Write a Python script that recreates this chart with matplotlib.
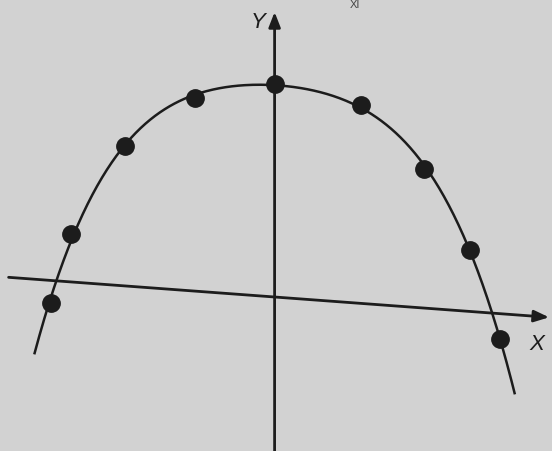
import numpy as np
import matplotlib.pyplot as plt
from matplotlib.transforms import Affine2D

# Observed points (X, Y) on the scatter diagram
x_pts = [-4.48, -4.08, -2.99, -1.60, 0.0, 1.73, 2.99, 3.91, 4.51]
y_pts = [-0.46, 0.95, 2.79, 3.87, 4.27, 3.96, 2.78, 1.23, -0.51]

# extent of the fitted curve and the axes
curve_x_range = (-4.80, 4.80)
x_axis_range = (-5.32, 5.49)
y_axis_range = (-3.1, 5.7)

ink = '#1c1c1c'
paper = '#d2d2d2'

fig = plt.figure(figsize=(5.52, 4.51), dpi=100)
fig.patch.set_facecolor(paper)
ax = fig.add_axes([0, 0, 1, 1])
ax.set_facecolor(paper)
ax.set_xlim(-5.492, 5.548)
ax.set_ylim(-3.08, 5.94)
ax.set_aspect('equal')
ax.axis('off')

# page is photographed at a slight slant: the X axis drops to the right
tilt = Affine2D(np.array([[1, 0, 0], [-0.074, 1, 0], [0, 0, 1]]))
tr = tilt + ax.transData

# smooth curve through the points
coef = np.polyfit(x_pts, y_pts, 4)
xs = np.linspace(*curve_x_range, 300)
ax.plot(xs, np.polyval(coef, xs), color=ink, lw=1.8, transform=tr, zorder=3)

# axes with arrow heads
arrow = dict(arrowstyle='-|>,head_length=0.9,head_width=0.35', color=ink, lw=2.0,
             shrinkA=0, shrinkB=0)
ax.annotate('', xy=(x_axis_range[1], 0), xytext=(x_axis_range[0], 0),
            xycoords=tr, textcoords=tr, arrowprops=arrow, zorder=2)
ax.annotate('', xy=(0, y_axis_range[1]), xytext=(0, y_axis_range[0]),
            xycoords=tr, textcoords=tr, arrowprops=arrow, zorder=2)

ax.plot(x_pts, y_pts, 'o', ms=12.5, color=ink, mec=ink, transform=tr, zorder=4)

ax.text(-0.33, 5.48, 'Y', fontsize=16, color=ink, ha='center', va='center',
        family='Liberation Sans', style='italic')
ax.text(5.25, -0.95, 'X', fontsize=16, color=ink, ha='center', va='center',
        family='Liberation Sans', style='italic')
ax.text(0.643, 0.999, 'XI', fontsize=8, color='#444444', ha='center', va='top',
        transform=ax.transAxes, family='Liberation Sans')

fig.savefig('out.png', dpi=100, facecolor=paper)
